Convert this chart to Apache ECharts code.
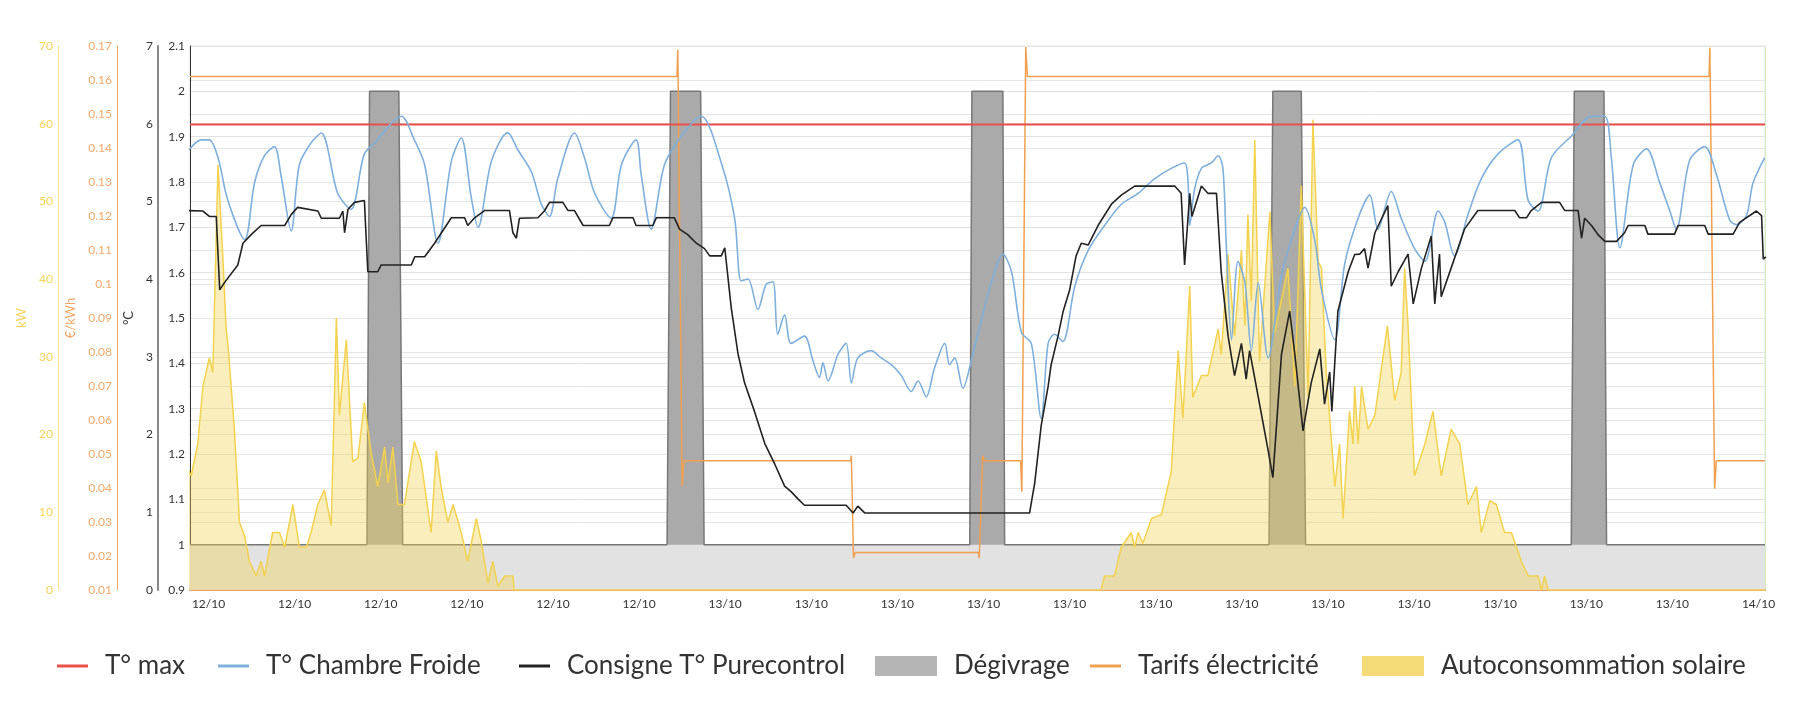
<!DOCTYPE html>
<html><head><meta charset="utf-8">
<script src="https://cdn.jsdelivr.net/npm/echarts@6/dist/echarts.min.js"></script>
<style>html,body{margin:0;padding:0;background:#fff}#c{width:1800px;height:720px}</style>
</head><body><div id="c"></div>
<script>
// hours since 12/10 00:00
const T_START = 11.57, T_END = 48.15;
const tempMax = [[11.57,1.927],[48.15,1.927]];
const chambre = [[11.44,1.858],[11.83,1.893],[12.02,1.893],[12.22,1.854],[12.45,1.759],[12.84,1.673],[13.07,1.799],[13.30,1.858],[13.53,1.878],[13.69,1.811],[13.92,1.692],[14.11,1.838],[14.38,1.886],[14.62,1.908],[15.0,1.775],[15.31,1.740],[15.62,1.862],[15.93,1.893],[16.24,1.929],[16.48,1.945],[16.78,1.893],[17.02,1.838],[17.33,1.665],[17.64,1.846],[17.87,1.897],[18.10,1.767],[18.26,1.700],[18.57,1.846],[18.95,1.909],[19.19,1.870],[19.50,1.822],[19.73,1.751],[19.92,1.724],[20.11,1.807],[20.50,1.908],[20.73,1.854],[20.97,1.775],[21.35,1.720],[21.59,1.838],[21.93,1.893],[22.05,1.815],[22.28,1.696],[22.59,1.838],[22.98,1.901],[23.44,1.945],[23.91,1.842],[24.22,1.720],[24.37,1.582],[24.53,1.586],[24.76,1.519],[24.95,1.574],[25.11,1.580],[25.22,1.464],[25.38,1.507],[25.53,1.444],[25.84,1.460],[26.04,1.405],[26.19,1.369],[26.27,1.401],[26.39,1.361],[26.62,1.420],[26.81,1.444],[26.93,1.357],[27.08,1.412],[27.39,1.428],[27.62,1.412],[27.86,1.397],[28.09,1.373],[28.32,1.338],[28.48,1.361],[28.67,1.326],[28.86,1.389],[29.10,1.444],[29.21,1.397],[29.33,1.412],[29.52,1.345],[29.75,1.420],[30.18,1.578],[30.45,1.641],[30.65,1.602],[30.88,1.468],[31.11,1.444],[31.34,1.278],[31.50,1.444],[31.65,1.464],[31.84,1.448],[32.12,1.570],[32.43,1.649],[32.81,1.704],[33.2,1.751],[33.59,1.775],[33.97,1.807],[34.36,1.830],[34.67,1.842],[34.75,1.799],[34.79,1.704],[34.90,1.783],[35.06,1.830],[35.29,1.842],[35.45,1.858],[35.56,1.830],[35.64,1.657],[35.76,1.452],[35.91,1.625],[36.07,1.578],[36.22,1.428],[36.38,1.578],[36.61,1.412],[36.92,1.594],[37.23,1.696],[37.46,1.744],[37.69,1.673],[37.85,1.562],[38.16,1.452],[38.39,1.620],[38.70,1.720],[38.97,1.771],[39.16,1.696],[39.47,1.779],[39.70,1.720],[40.01,1.653],[40.25,1.625],[40.56,1.736],[40.71,1.712],[40.94,1.637],[41.25,1.728],[41.56,1.807],[41.95,1.862],[42.41,1.893],[42.65,1.759],[42.88,1.736],[43.19,1.854],[43.65,1.901],[44.12,1.945],[44.43,1.945],[44.58,1.854],[44.78,1.655],[45.09,1.838],[45.40,1.873],[45.71,1.797],[45.94,1.736],[46.09,1.696],[46.40,1.848],[46.75,1.878],[47.02,1.817],[47.33,1.716],[47.49,1.706],[47.72,1.726],[47.87,1.797],[48.14,1.853]];
const consigne = [[11.44,1.737],[11.87,1.736],[12.02,1.724],[12.18,1.724],[12.26,1.562],[12.37,1.578],[12.68,1.617],[12.80,1.665],[12.99,1.684],[13.22,1.704],[13.77,1.704],[13.92,1.728],[14.07,1.744],[14.54,1.736],[14.62,1.720],[15.04,1.720],[15.12,1.736],[15.16,1.688],[15.24,1.740],[15.39,1.755],[15.62,1.759],[15.70,1.602],[15.93,1.602],[16.01,1.617],[16.71,1.617],[16.79,1.635],[17.02,1.635],[17.25,1.665],[17.64,1.721],[17.95,1.721],[18.02,1.704],[18.18,1.721],[18.41,1.737],[18.99,1.737],[19.07,1.688],[19.15,1.676],[19.22,1.720],[19.65,1.721],[19.80,1.736],[19.92,1.755],[20.23,1.755],[20.35,1.737],[20.50,1.737],[20.70,1.704],[21.31,1.704],[21.39,1.721],[21.86,1.721],[21.93,1.704],[22.32,1.704],[22.40,1.721],[22.82,1.721],[22.94,1.696],[23.13,1.684],[23.33,1.665],[23.52,1.653],[23.64,1.637],[23.91,1.637],[23.99,1.655],[24.14,1.523],[24.30,1.420],[24.45,1.357],[24.68,1.294],[24.92,1.223],[25.15,1.178],[25.38,1.129],[25.53,1.117],[25.69,1.101],[25.84,1.087],[26.81,1.087],[26.97,1.070],[27.08,1.085],[27.24,1.070],[31.07,1.070],[31.19,1.137],[31.34,1.263],[31.50,1.349],[31.57,1.397],[31.73,1.460],[31.85,1.515],[32.0,1.562],[32.15,1.637],[32.27,1.665],[32.43,1.661],[32.66,1.704],[32.97,1.751],[33.2,1.771],[33.51,1.791],[34.44,1.791],[34.59,1.775],[34.67,1.617],[34.79,1.775],[34.84,1.724],[35.06,1.791],[35.21,1.775],[35.41,1.775],[35.52,1.602],[35.68,1.460],[35.83,1.373],[35.99,1.444],[36.10,1.365],[36.18,1.428],[36.38,1.326],[36.61,1.208],[36.72,1.148],[36.92,1.420],[37.11,1.515],[37.23,1.420],[37.42,1.251],[37.61,1.357],[37.81,1.432],[37.92,1.310],[38.04,1.381],[38.09,1.294],[38.23,1.515],[38.47,1.602],[38.62,1.640],[38.74,1.641],[38.85,1.653],[38.93,1.610],[39.09,1.688],[39.39,1.748],[39.47,1.570],[39.63,1.602],[39.86,1.641],[39.98,1.531],[40.17,1.610],[40.40,1.681],[40.48,1.531],[40.59,1.641],[40.63,1.547],[40.86,1.610],[41.17,1.696],[41.48,1.737],[42.34,1.737],[42.45,1.721],[42.61,1.721],[42.72,1.737],[42.96,1.755],[43.38,1.755],[43.50,1.737],[43.81,1.737],[43.89,1.676],[43.96,1.720],[44.12,1.704],[44.27,1.684],[44.43,1.669],[44.70,1.669],[44.89,1.688],[44.97,1.704],[45.36,1.704],[45.43,1.685],[46.05,1.685],[46.13,1.704],[46.75,1.704],[46.83,1.685],[47.41,1.685],[47.56,1.711],[47.95,1.736],[48.07,1.726],[48.11,1.630],[48.17,1.635]];
const degivrage = [[11.57,1],[15.68,1],[15.74,2],[16.42,2],[16.51,1],[22.65,1],[22.73,2],[23.43,2],[23.51,1],[29.68,1],[29.73,2],[30.45,2],[30.49,1],[36.63,1],[36.72,2],[37.38,2],[37.48,1],[43.65,1],[43.72,2],[44.41,2],[44.47,1],[48.15,1]];
const tarifs = [[11.57,0.161],[22.88,0.161],[22.90,0.169],[23.00,0.0405],[23.04,0.048],[26.91,0.048],[26.93,0.0495],[26.98,0.0194],[27.02,0.021],[29.88,0.021],[29.90,0.0194],[29.98,0.0495],[30.02,0.048],[30.86,0.048],[30.89,0.039],[30.98,0.1697],[31.02,0.161],[46.85,0.161],[46.87,0.1695],[46.98,0.0398],[47.02,0.048],[48.15,0.048]];
const solaire = [[11.44,16.5],[11.6,14.7],[11.75,18.8],[11.87,26.2],[12.02,29.9],[12.1,28.0],[12.22,54.7],[12.33,43.2],[12.41,33.6],[12.45,31.7],[12.6,20.7],[12.72,8.7],[12.84,6.9],[12.95,3.7],[13.11,1.8],[13.22,3.7],[13.30,1.8],[13.49,7.4],[13.65,7.4],[13.77,5.5],[13.96,11.0],[14.11,5.5],[14.27,5.5],[14.38,7.4],[14.54,11.0],[14.69,12.9],[14.85,8.3],[14.97,35.0],[15.04,22.5],[15.2,32.2],[15.35,16.5],[15.47,17.0],[15.62,24.1],[15.78,17.5],[15.93,13.3],[16.09,18.4],[16.17,13.8],[16.28,18.4],[16.4,11.0],[16.55,11.0],[16.78,19.1],[16.94,16.5],[17.17,7.4],[17.29,17.9],[17.4,13.3],[17.56,8.7],[17.68,11.0],[17.87,7.4],[18.02,3.7],[18.22,9.2],[18.33,6.4],[18.49,0.9],[18.6,3.7],[18.72,0.5],[18.88,1.8],[19.07,1.8],[19.1,0],[32.73,0],[32.81,1.8],[33.04,1.8],[33.2,5.5],[33.43,7.4],[33.51,5.5],[33.59,7.4],[33.7,6.0],[33.9,9.2],[34.13,9.7],[34.36,15.2],[34.52,30.8],[34.63,22.1],[34.79,39.1],[34.86,24.8],[35.06,27.6],[35.21,27.6],[35.45,33.6],[35.52,30.3],[35.68,43.2],[35.83,32.7],[35.99,43.7],[36.07,34.0],[36.14,48.3],[36.22,37.2],[36.30,57.9],[36.41,29.4],[36.65,48.7],[36.76,33.1],[37.07,41.4],[37.23,26.2],[37.38,52.0],[37.54,24.8],[37.65,60.5],[37.77,42.3],[37.85,41.4],[37.96,28.0],[38.16,13.3],[38.27,18.8],[38.35,9.2],[38.5,23.0],[38.58,18.8],[38.62,26.2],[38.7,18.8],[38.78,26.2],[38.93,20.7],[39.09,22.5],[39.24,28.5],[39.38,34.0],[39.55,24.4],[39.7,28.0],[39.78,41.4],[39.86,34.0],[40.01,14.7],[40.25,18.8],[40.44,23.0],[40.63,14.7],[40.86,20.7],[41.06,18.8],[41.25,11.0],[41.45,13.3],[41.56,7.4],[41.76,11.5],[41.91,11.0],[42.1,7.4],[42.26,7.4],[42.49,3.7],[42.65,1.8],[42.88,1.8],[42.96,0],[43.03,1.8],[43.11,0],[48.15,0]];
const names = ['T° max','T° Chambre Froide','Consigne T° Purecontrol','Dégivrage','Tarifs électricité','Autoconsommation solaire'];

const BASE = Date.UTC(2020,9,12);
const ts = h => BASE + h*3600000;
const conv = arr => arr.map(p => [ts(p[0]), p[1]]);
const pad = n => (n<10?'0':'')+n;
const lab = {fontSize:12, margin:5};
const legTxt = {fontSize:26, color:'#333', fontFamily:'Lato', padding:[0,0,0,12]};
const legLine = (name, left) => ({data:[name], left:left, top:648, icon:'rect', itemWidth:31, itemHeight:3, textStyle:legTxt});
const legRect = (name, left) => ({data:[name], left:left, top:648, icon:'rect', itemWidth:62, itemHeight:20, textStyle:legTxt});
const chart = echarts.init(document.getElementById('c'));
chart.setOption({
  useUTC: true,
  animation: false,
  textStyle:{fontFamily:'Lato, "Open Sans", sans-serif'},
  grid:{left:190, right:35, top:46, bottom:130, show:true, borderColor:'#e2e2e2', borderWidth:1},
  legend:[legLine(names[0],52), legLine(names[1],213), legLine(names[2],514), legRect(names[3],870), legLine(names[4],1085), legRect(names[5],1357)],
  xAxis:{type:'time', min:ts(T_START), max:ts(T_END), minInterval:7200000, maxInterval:7200000, splitNumber:18,
    axisLine:{lineStyle:{color:'#e8a060', width:2}}, axisTick:{show:false},
    splitLine:{show:false},
    axisLabel:{fontSize:12, color:'#333', hideOverlap:false, formatter:v=>{const d=new Date(v); if(d.getUTCHours()%2) return ''; return pad(d.getUTCDate())+'/'+pad(d.getUTCMonth()+1);}}},
  yAxis:[
    {type:'value', min:0.9, max:2.1, interval:0.1, position:'left', offset:0,
      axisLine:{show:true, lineStyle:{color:'#333'}}, axisTick:{show:false},
      axisLabel:Object.assign({color:'#333'},lab), splitLine:{lineStyle:{color:'#e2e2e2'}}},
    {type:'value', min:0, max:7, interval:1, position:'left', offset:32, name:'°C', nameLocation:'middle', nameGap:22, nameTextStyle:{color:'#333', fontSize:13},
      axisLine:{show:true, lineStyle:{color:'#888', width:2}}, axisTick:{show:false},
      axisLabel:Object.assign({color:'#333'},lab), splitLine:{lineStyle:{color:'#e6e6e6'}}},
    {type:'value', min:0.01, max:0.17, interval:0.01, position:'left', offset:73, name:'€/kWh', nameLocation:'middle', nameGap:40, nameTextStyle:{color:'#f0a868', fontSize:13},
      axisLine:{show:true, lineStyle:{color:'#f0a868'}}, axisTick:{show:false},
      axisLabel:Object.assign({color:'#f0a868'},lab), splitLine:{lineStyle:{color:'#e6e6e6'}}},
    {type:'value', min:0, max:70, interval:10, position:'left', offset:132, name:'kW', nameLocation:'middle', nameGap:30, nameTextStyle:{color:'#f5d45a', fontSize:13},
      axisLine:{show:true, lineStyle:{color:'#f7e08a'}}, axisTick:{show:false},
      axisLabel:Object.assign({color:'#f5d45a'},lab), splitLine:{lineStyle:{color:'#e6e6e6'}}},
    {type:'value', min:0, max:1, position:'right', axisLine:{show:true, lineStyle:{color:'#d6ecc8'}}, axisLabel:{show:false}, axisTick:{show:false}, splitLine:{show:false}}
  ],
  series:[
    {name:names[3], type:'line', yAxisIndex:0, data:conv(degivrage), showSymbol:false, symbol:'none', z:1,
      lineStyle:{color:'#777', width:1.5}, itemStyle:{color:'#b5b5b5'}, areaStyle:{color:'#aaaaaa', origin:1, opacity:1},
      markArea:{silent:true, itemStyle:{color:'#e2e2e2'}, data:[[{xAxis:ts(T_START), yAxis:0.9},{xAxis:ts(T_END), yAxis:1}]]}},
    {name:names[5], type:'line', yAxisIndex:3, data:conv(solaire), showSymbol:false, symbol:'none', z:2,
      lineStyle:{color:'#f2d24e', width:1.5}, itemStyle:{color:'#f5da78'}, areaStyle:{color:'rgba(242,212,80,0.55)'}},
    {name:names[4], type:'line', yAxisIndex:2, data:conv(tarifs), showSymbol:false, symbol:'none', z:3,
      lineStyle:{color:'#f0a050', width:1.5}, itemStyle:{color:'#f0a050'}},
    {name:names[0], type:'line', yAxisIndex:0, data:conv(tempMax), showSymbol:false, symbol:'none', z:4,
      lineStyle:{color:'#e8504a', width:2}, itemStyle:{color:'#e8504a'}},
    {name:names[1], type:'line', yAxisIndex:0, data:conv(chambre), showSymbol:false, symbol:'none', z:4, smooth:0.3,
      lineStyle:{color:'#7fb0dc', width:1.6}, itemStyle:{color:'#7fb0dc'}},
    {name:names[2], type:'line', yAxisIndex:0, data:conv(consigne), showSymbol:false, symbol:'none', z:5,
      lineStyle:{color:'#222', width:1.6}, itemStyle:{color:'#222'}}
  ]
});
</script></body></html>
